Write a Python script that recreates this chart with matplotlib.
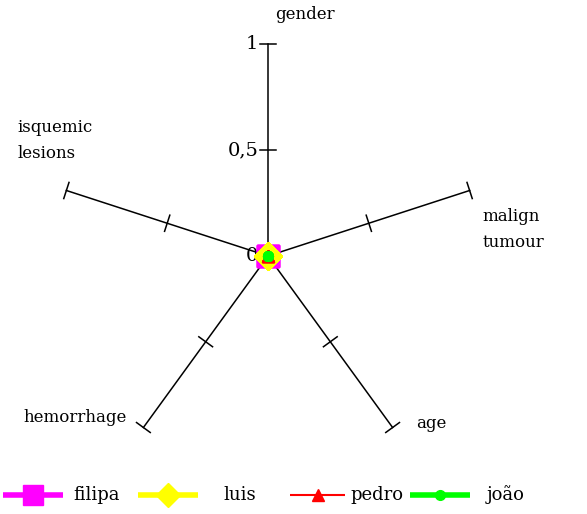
import numpy as np
import matplotlib.pyplot as plt

plt.rcParams['font.family'] = ['DejaVu Serif']

categories = ['gender', 'malign\ntumour', 'age', 'hemorrhage', 'isquemic\nlesions']
angles_deg = [90, 18, -54, -126, 162]
series_names = ['filipa', 'luis', 'pedro', 'joão']
filipa = [0, 0, 0, 0, 0]
luis = [0, 0, 0, 0, 0]
pedro = [0, 0, 0, 0, 0]
joao = [0, 0, 0, 0, 0]
tick_values = [0.5, 1]
tick_labels = ['0', '0,5', '1']

W, H = 587, 514
cx, cy, R = 268, 256, 212

fig = plt.figure(figsize=(W / 100, H / 100), dpi=100)
ax = fig.add_axes([0, 0, 1, 1])
ax.set_xlim(-cx / R, (W - cx) / R)
ax.set_ylim(-(H - cy) / R, cy / R)
ax.set_aspect('equal')
ax.axis('off')

ang = np.radians(angles_deg)

# spokes with tick marks
for a in ang:
    ux, uy = np.cos(a), np.sin(a)
    ax.plot([0, ux], [0, uy], color='black', lw=1.1)
    px, py = -uy, ux
    for t in tick_values:
        s = 0.04
        ax.plot([t * ux - s * px, t * ux + s * px], [t * uy - s * py, t * uy + s * py],
                color='black', lw=1.1)

# scale labels on the gender axis
for v, lab in zip([0] + tick_values, tick_labels):
    ax.text(-0.045, v, lab, ha='right', va='center', fontsize=14)

# category labels
label_pos = [(0.175, 1.14, 'center', 'center'),
             (1.01, 0.123, 'left', 'center'),
             (0.70, -0.79, 'left', 'center'),
             (-0.665, -0.764, 'right', 'center'),
             (-1.18, 0.545, 'left', 'center')]
for cat, (x, y, ha, va) in zip(categories, label_pos):
    ax.text(x, y, cat, ha=ha, va=va, fontsize=12, linespacing=1.7)

styles = [
    dict(color='#ff00ff', marker='s', ms=16, lw=4),
    dict(color='#ffff00', marker='D', ms=14, lw=4),
    dict(color='#ff0000', marker='^', ms=9, lw=1.5),
    dict(color='#00ff00', marker='o', ms=7, lw=4),
]
for name, vals, st in zip(series_names, [filipa, luis, pedro, joao], styles):
    v = np.array(vals + vals[:1], dtype=float)
    a = np.concatenate([ang, ang[:1]])
    ax.plot(v * np.cos(a), v * np.sin(a), color=st['color'], lw=st['lw'],
            marker=st['marker'], ms=st['ms'], mec=st['color'], zorder=3)

# legend drawn by hand to follow the uneven spacing of the original
leg_x = [(3, 63, 73), (138, 198, 223), (290, 345, 350), (410, 470, 487)]
leg_y = 1 - 495 / H
leg_ms = [15, 12, 9, 7]
for name, st, (x0, x1, xt), ms in zip(series_names, styles, leg_x, leg_ms):
    ax.plot([x0 / W, x1 / W], [leg_y, leg_y], transform=ax.transAxes, color=st['color'],
            lw=st['lw'], solid_capstyle='butt')
    ax.plot([(x0 + x1) / 2 / W], [leg_y], transform=ax.transAxes, color=st['color'],
            marker=st['marker'], ms=ms, mec=st['color'])
    ax.text(xt / W, leg_y, name, transform=ax.transAxes, ha='left', va='center',
            fontsize=13)

fig.savefig('out.png', dpi=100)
